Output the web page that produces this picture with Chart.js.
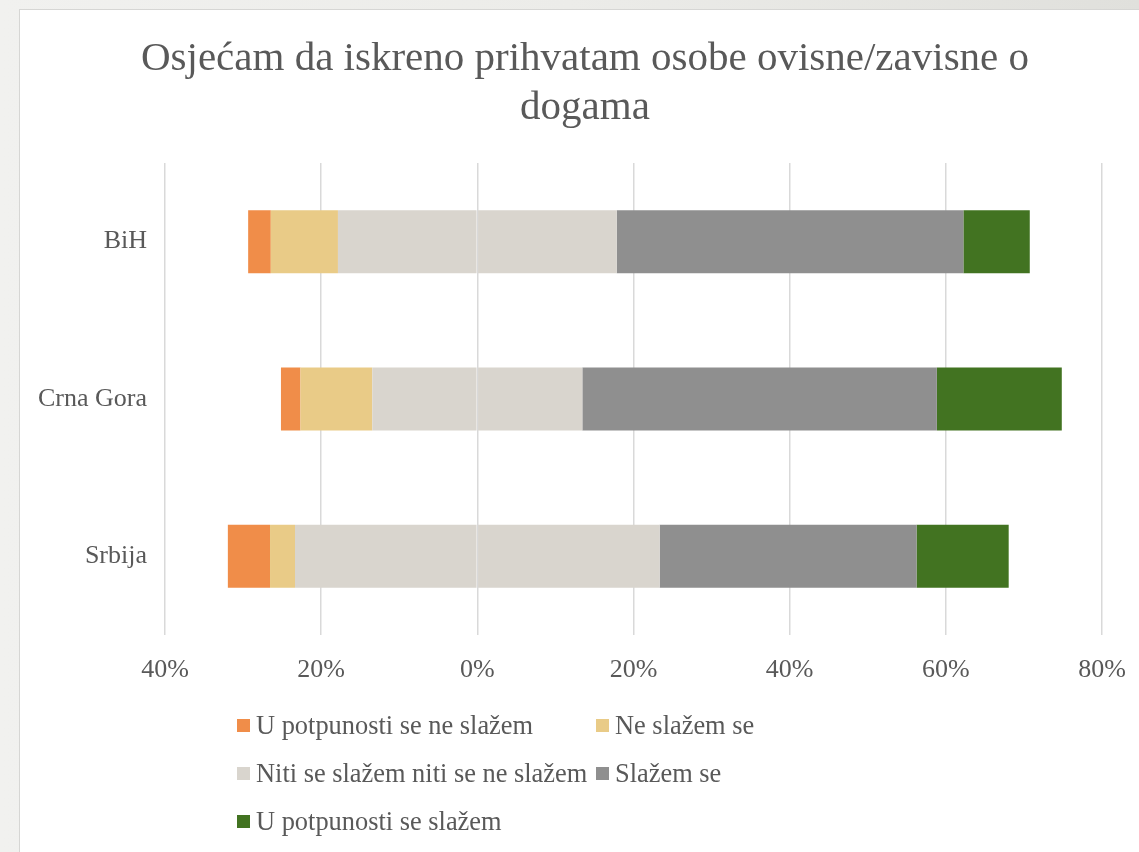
<!DOCTYPE html>
<html>
<head>
<meta charset="utf-8">
<script src="https://cdn.jsdelivr.net/npm/chart.js@4.4.1/dist/chart.umd.min.js"></script>
<style>
  html, body { margin: 0; padding: 0; }
  body {
    width: 1139px; height: 852px; overflow: hidden; position: relative;
    background: linear-gradient(90deg, #F1F1EF 0%, #ECECE9 50%, #E0E0DC 100%);
    font-family: "Liberation Serif", serif;
  }
  #panel {
    position: absolute; left: 19px; top: 9px; width: 1130px; height: 860px;
    background: #FFFFFF; border-left: 1.5px solid #D6D6D4; border-top: 1.5px solid #D6D6D4;
    box-sizing: border-box;
  }
  #chartWrap { position: absolute; left: 0; top: 0; width: 1139px; height: 852px; }
  #legend { position: absolute; left: 0; top: 0; width: 1139px; height: 852px; pointer-events: none; }
  .lg-item { position: absolute; height: 30px; display: flex; align-items: center; white-space: nowrap;
    font-family: "Liberation Serif", serif; font-size: 26.4px; color: #595959; }
  .lg-box { width: 13px; height: 13px; margin-right: 6px; flex: none; }
</style>
</head>
<body>
<div id="panel"></div>
<div id="chartWrap"><canvas id="c" width="1139" height="852"></canvas></div>
<div id="legend"></div>
<script>
// ---- data ----
const titleLines = ['Osjećam da iskreno prihvatam osobe ovisne/zavisne o', 'dogama'];
const categories = ['BiH', 'Crna Gora', 'Srbija'];
const seriesNames = ['U potpunosti se ne slažem', 'Ne slažem se', 'Niti se slažem niti se ne slažem', 'Slažem se', 'U potpunosti se slažem'];
const stronglyDisagree = [2.9, 2.5, 5.4];
const disagree = [8.6, 9.2, 3.2];
const neutral = [35.7, 26.9, 46.7];
const agree = [44.4, 45.4, 32.9];
const stronglyAgree = [8.5, 16.0, 11.8];
const xTickValues = [-40, -20, 0, 20, 40, 60, 80];
const seriesColors = ['#F08D49', '#E9CB87', '#D9D5CE', '#8F8F8F', '#427321'];

const TEXT = '#595959';
const FONT = 'Liberation Serif';

const neg = arr => arr.map(v => -v);
const half = arr => arr.map(v => v / 2);

const datasets = [
  { label: seriesNames[2], data: neg(half(neutral)), backgroundColor: seriesColors[2], legendIndex: 2 },
  { label: seriesNames[1], data: neg(disagree), backgroundColor: seriesColors[1], legendIndex: 1 },
  { label: seriesNames[0], data: neg(stronglyDisagree), backgroundColor: seriesColors[0], legendIndex: 0 },
  { label: seriesNames[2], data: half(neutral), backgroundColor: seriesColors[2], legendIndex: -1 },
  { label: seriesNames[3], data: agree, backgroundColor: seriesColors[3], legendIndex: 3 },
  { label: seriesNames[4], data: stronglyAgree, backgroundColor: seriesColors[4], legendIndex: 4 }
].map(d => Object.assign(d, { barPercentage: 0.4, categoryPercentage: 1.0, borderWidth: 0 }));

// Title drawn on the chart canvas, centred over the panel
const titlePlugin = {
  id: 'panelTitle',
  afterDraw(chart) {
    const ctx = chart.ctx;
    ctx.save();
    ctx.fillStyle = TEXT;
    ctx.font = '41px "' + FONT + '"';
    ctx.textAlign = 'center';
    ctx.textBaseline = 'alphabetic';
    titleLines.forEach((line, i) => ctx.fillText(line, 585, 70 + i * 49));
    ctx.restore();
  }
};

const chart = new Chart(document.getElementById('c'), {
  type: 'bar',
  data: { labels: categories, datasets },
  plugins: [titlePlugin],
  options: {
    indexAxis: 'y',
    responsive: false,
    animation: false,
    layout: { padding: { left: 0, right: 37, top: 163, bottom: 147 } },
    plugins: {
      legend: { display: false },
      tooltip: { enabled: false },
      title: { display: false }
    },
    scales: {
      x: {
        stacked: true,
        min: -40, max: 80,
        afterBuildTicks: s => { s.ticks = xTickValues.map(v => ({ value: v })); },
        afterFit: s => { s.height = 70; s.paddingLeft = 0; s.paddingRight = 0; },
        ticks: {
          color: TEXT,
          font: { family: FONT, size: 26 },
          padding: 20,
          maxRotation: 0,
          callback: v => Math.abs(v) + '%'
        },
        grid: { color: '#D9D9D9', lineWidth: 1.5, drawTicks: false },
        border: { display: false }
      },
      y: {
        stacked: true,
        afterFit: s => { s.width = 165; s.paddingTop = 0; s.paddingBottom = 0; },
        ticks: { color: TEXT, font: { family: FONT, size: 26 }, padding: 18 },
        grid: { display: false, drawTicks: false },
        border: { display: false }
      }
    }
  }
});

// ---- HTML legend built from the chart's datasets ----
const legendPos = [
  { x: 237, y: 725 }, { x: 596, y: 725 },
  { x: 237, y: 773 }, { x: 596, y: 773 },
  { x: 237, y: 821 }
];
const lg = document.getElementById('legend');
chart.data.datasets
  .filter(d => d.legendIndex >= 0)
  .sort((a, b) => a.legendIndex - b.legendIndex)
  .forEach(d => {
    const p = legendPos[d.legendIndex];
    const item = document.createElement('div');
    item.className = 'lg-item';
    item.style.left = p.x + 'px';
    item.style.top = (p.y - 15) + 'px';
    const box = document.createElement('span');
    box.className = 'lg-box';
    box.style.background = d.backgroundColor;
    const txt = document.createElement('span');
    txt.textContent = d.label;
    item.appendChild(box); item.appendChild(txt);
    lg.appendChild(item);
  });
</script>
</body>
</html>
